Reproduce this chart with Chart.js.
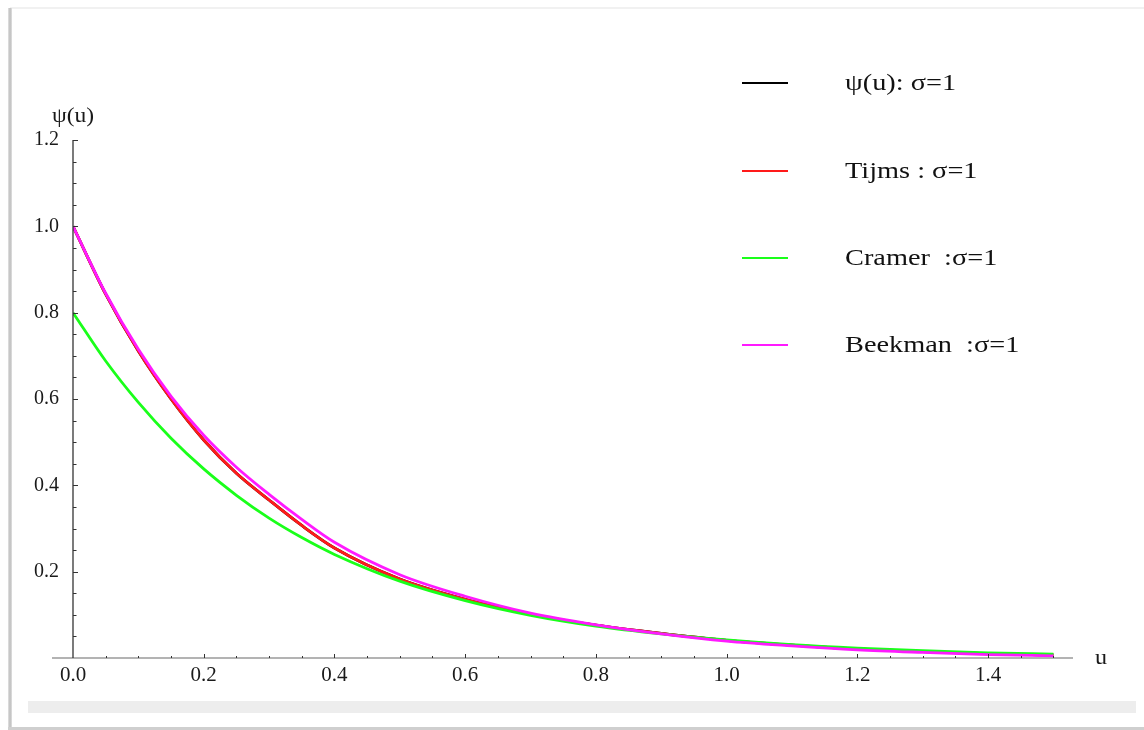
<!DOCTYPE html>
<html lang="en">
<head>
    <meta charset="UTF-8">
    <title>Ruin probability psi(u)</title>
    <style>
        html, body { margin: 0; padding: 0; background: #fff; }
        #frame { position: relative; width: 1144px; height: 730px; overflow: hidden; background: #fff; }
        #frame .edgeLeft { position: absolute; left: 8px; top: 8px; width: 4px; height: 722px;
            background: linear-gradient(to right, #e4e4e4, #bdbdbd, #e0e0e0); }
        #frame .edgeTop { position: absolute; left: 10px; top: 7px; width: 1134px; height: 2px; background: #f1f1f1; }
        #frame .edgeBottom { position: absolute; left: 8px; top: 727px; width: 1136px; height: 3px; background: #cfcfcf; }
        #frame .band { position: absolute; left: 28px; top: 701px; width: 1108px; height: 12px; background: #ededed; }
        #ruinChart { position: absolute; left: 0; top: 0; }
    </style>
</head>
<body>
<div id="frame">
    <div class="edgeTop"></div>
    <div class="edgeLeft"></div>
    <div class="edgeBottom"></div>
    <div class="band"></div>
    <canvas id="ruinChart" width="1144" height="730"></canvas>
</div>

<script src="https://cdn.jsdelivr.net/npm/chart.js"></script>
<script>
    // values
    const uValues = [0, 0.05, 0.1, 0.15, 0.2, 0.25, 0.3, 0.35, 0.4, 0.5, 0.6, 0.7, 0.8, 0.9, 1.0, 1.1, 1.2, 1.3, 1.4, 1.5];

    const psiExact = [1.0, 0.843, 0.711, 0.600, 0.505, 0.428, 0.366, 0.307, 0.255, 0.183, 0.136, 0.101, 0.076, 0.057, 0.041, 0.030, 0.021, 0.015, 0.010, 0.007];
    const psiTijms = [1.0, 0.843, 0.711, 0.600, 0.505, 0.428, 0.366, 0.307, 0.255, 0.183, 0.136, 0.101, 0.076, 0.057, 0.041, 0.030, 0.021, 0.015, 0.010, 0.007];
    const psiCramer = [0.8, 0.688, 0.592, 0.509, 0.438, 0.377, 0.324, 0.279, 0.240, 0.178, 0.133, 0.099, 0.074, 0.056, 0.042, 0.031, 0.023, 0.017, 0.012, 0.009];
    const psiBeekman = [1.0, 0.845, 0.715, 0.606, 0.516, 0.442, 0.379, 0.321, 0.268, 0.193, 0.143, 0.104, 0.077, 0.056, 0.039, 0.028, 0.019, 0.013, 0.008, 0.005];

    const seriesLabels = ['\u03c8(u): \u03c3=1', 'Tijms : \u03c3=1', 'Cramer  :\u03c3=1', 'Beekman  :\u03c3=1'];
    const seriesColors = ['#000000', '#ff1a1a', '#1aff1a', '#ff1aff'];

    const xTickValues = [0, 0.2, 0.4, 0.6, 0.8, 1.0, 1.2, 1.4];
    const xTickLabels = ['0.0', '0.2', '0.4', '0.6', '0.8', '1.0', '1.2', '1.4'];
    const yTickValues = [0.2, 0.4, 0.6, 0.8, 1.0, 1.2];
    const yTickLabels = ['0.2', '0.4', '0.6', '0.8', '1.0', '1.2'];

    const FONT = "'Liberation Serif', 'Times New Roman', serif";

    function toPoints(ys) {
        return uValues.map((u, i) => ({ x: u, y: ys[i] }));
    }

    const allSeries = [psiExact, psiTijms, psiCramer, psiBeekman];
    const drawOrder = [4, 3, 2, 1]; // Beekman ends up on top

    const datasets = allSeries.map((ys, i) => ({
        label: seriesLabels[i],
        data: toPoints(ys),
        borderColor: seriesColors[i],
        backgroundColor: seriesColors[i],
        borderWidth: 2.8,
        pointRadius: 0,
        showLine: true,
        fill: false,
        cubicInterpolationMode: 'monotone',
        order: drawOrder[i]
    }));

    // stretched text, the source image is a bit wider than tall
    function wideText(ctx, text, x, y, sx) {
        ctx.save();
        ctx.translate(x, y);
        ctx.scale(sx, 1);
        ctx.fillText(text, 0, 0);
        ctx.restore();
    }

    // axis lines, inner tick marks, axis names and the legend
    const axesAndLegend = {
        id: 'axesAndLegend',
        afterDatasetsDraw(chart) {
            const ctx = chart.ctx;
            const xs = chart.scales.x;
            const ys = chart.scales.y;
            const x0 = xs.getPixelForValue(0);
            const y0 = ys.getPixelForValue(0);
            ctx.save();

            // x axis (grey, runs a little left of the origin)
            ctx.strokeStyle = '#9a9a9a';
            ctx.lineWidth = 1.5;
            ctx.beginPath();
            ctx.moveTo(x0 - 21, y0);
            ctx.lineTo(xs.right, y0);
            ctx.stroke();

            // y axis
            ctx.strokeStyle = '#333';
            ctx.lineWidth = 1.3;
            ctx.beginPath();
            ctx.moveTo(x0, ys.getPixelForValue(1.2));
            ctx.lineTo(x0, y0);
            ctx.stroke();

            // x ticks every 0.05
            ctx.strokeStyle = '#333';
            ctx.lineWidth = 1;
            for (let k = 1; k <= 30; k++) {
                const px = Math.round(xs.getPixelForValue(k * 0.05)) + 0.5;
                const len = k % 4 === 0 ? 4 : 2;
                ctx.beginPath();
                ctx.moveTo(px, y0);
                ctx.lineTo(px, y0 - len);
                ctx.stroke();
            }
            // y ticks every 0.05
            for (let k = 1; k <= 24; k++) {
                const py = Math.round(ys.getPixelForValue(k * 0.05)) + 0.5;
                const len = k % 4 === 0 ? 5 : 3.5;
                ctx.beginPath();
                ctx.moveTo(x0, py);
                ctx.lineTo(x0 + len, py);
                ctx.stroke();
            }

            // axis names
            ctx.fillStyle = '#1a1a1a';
            ctx.font = '21px ' + FONT;
            ctx.textBaseline = 'middle';
            ctx.textAlign = 'center';
            wideText(ctx, '\u03c8(u)', x0, 116, 1.12);
            wideText(ctx, 'u', xs.right + 28, y0, 1.15);

            // legend
            const legendY = [83, 171, 258, 345];
            ctx.textAlign = 'left';
            ctx.font = '24px ' + FONT;
            chart.data.datasets.forEach((ds, i) => {
                ctx.strokeStyle = ds.borderColor;
                ctx.lineWidth = 2;
                ctx.beginPath();
                ctx.moveTo(742, legendY[i]);
                ctx.lineTo(788, legendY[i]);
                ctx.stroke();
                ctx.fillStyle = '#111';
                wideText(ctx, ds.label, 845, legendY[i] + 1, 1.18);
            });
            ctx.restore();
        }
    };

    const config = {
        type: 'scatter',
        data: { datasets: datasets },
        options: {
            responsive: false,
            animation: false,
            layout: { padding: { top: 140, right: 71, left: 0, bottom: 0 } },
            plugins: {
                legend: { display: false },
                tooltip: { enabled: false },
                title: { display: false }
            },
            scales: {
                x: {
                    type: 'linear',
                    min: 0,
                    max: 1.53,
                    grid: { display: false, drawTicks: false },
                    border: { display: false },
                    afterBuildTicks: scale => { scale.ticks = xTickValues.map(v => ({ value: v })); },
                    afterFit: scale => { scale.height = 72; },
                    ticks: {
                        autoSkip: false,
                        maxRotation: 0,
                        padding: 5,
                        color: '#1a1a1a',
                        font: { family: FONT, size: 21 },
                        callback: (v, i) => xTickLabels[i]
                    }
                },
                y: {
                    type: 'linear',
                    min: 0,
                    max: 1.2,
                    grid: { display: false, drawTicks: false },
                    border: { display: false },
                    afterBuildTicks: scale => { scale.ticks = yTickValues.map(v => ({ value: v })); },
                    afterFit: scale => { scale.width = 73; },
                    ticks: {
                        autoSkip: false,
                        padding: 14,
                        color: '#1a1a1a',
                        font: { family: FONT, size: 20 },
                        callback: (v, i) => yTickLabels[i]
                    }
                }
            }
        },
        plugins: [axesAndLegend]
    };

    const ruinChart = new Chart(document.getElementById('ruinChart'), config);
</script>
</body>
</html>
